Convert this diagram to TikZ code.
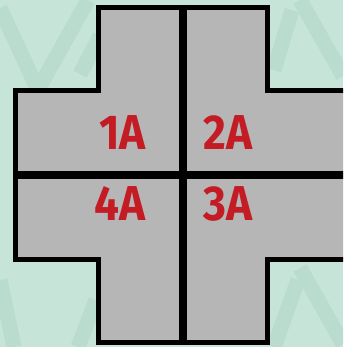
\documentclass[tikz,border=0pt]{standalone}
\usepackage{fontspec}
\usepackage{xcolor}
\usepackage{tikz}
\usetikzlibrary{positioning,calc}
\newfontfamily\labelfont[FakeStretch=0.9]{Fira Sans}
\definecolor{mintbg}{HTML}{C6E4D8}
\definecolor{mintstroke}{HTML}{BADCCE}
\definecolor{plotgray}{HTML}{B6B6B6}
\definecolor{plotred}{HTML}{C41C24}

\begin{document}
\begin{tikzpicture}[x=1pt, y=-1pt, brush/.style={draw=mintstroke, line width=15pt, line cap=butt}, plot/.style={draw=black, fill=plotgray, line width=5pt, miter limit=10}, divider/.style={draw=black, line width=7.5pt}, lot/.style={text=plotred, inner sep=0pt, font=\labelfont\bfseries\fontsize{49}{49}\selectfont}]
\clip (0,0) rectangle (343,347);
\fill[mintbg] (0,0) rectangle (343,347);
% faint brush pattern
\draw[brush] (0,8) -- (38,90);
\draw[brush] (88,0) -- (40,86);
\draw[brush] (100,36) -- (80,74);
\draw[brush] (292,10) -- (274,70);
\draw[brush] (300,0) -- (343,76);
\draw[brush] (298,280) -- (274,347);
\draw[brush] (300,268) -- (343,344);
\draw[brush] (0,280) -- (14,347);
\draw[brush] (96,300) -- (78,347);
% plot outline
\draw[plot] (98.5,7.5) -- (267.5,7.5) -- (267.5,90.5) -- (370,90.5) -- (370,259.5) -- (267.5,259.5) -- (267.5,342.5) -- (98.5,342.5) -- (98.5,259.5) -- (15.5,259.5) -- (15.5,90.5) -- (98.5,90.5) -- cycle;
\draw[divider] (183,5) -- (183,345);
\draw[divider] (13,175) -- (370,175);
\node[lot, anchor=base east] (l1) at (146,150) {1A};
\node[lot, anchor=base west] (l2) at (203,150) {2A};
\node[lot, anchor=base east] (l4) at (146,220) {4A};
\node[lot, anchor=base west] (l3) at (203,220) {3A};
\end{tikzpicture}
\end{document}
